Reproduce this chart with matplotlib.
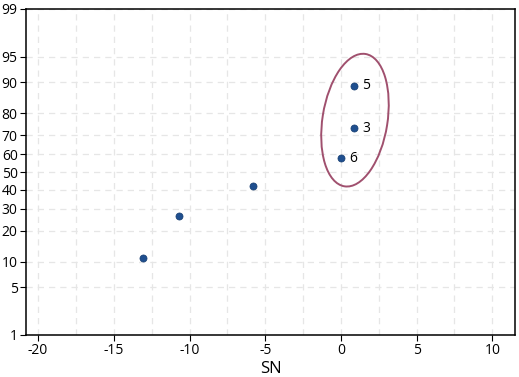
import matplotlib.pyplot as plt
import matplotlib.transforms as mtransforms
from matplotlib.patches import Ellipse
import numpy as np
from statistics import NormalDist

plt.rcParams['font.family'] = ['Open Sans', 'DejaVu Sans']
plt.rcParams['axes.unicode_minus'] = False

# SN values (sorted) and point labels
sn = [-13.1, -10.7, -5.8, 0.0, 0.85, 0.85]
point_labels = ['', '', '', '6', '3', '5']
prob_ticks = [1, 5, 10, 20, 30, 40, 50, 60, 70, 80, 90, 95, 99]

nd = NormalDist()
n = len(sn)
# median rank plotting positions
pp = [(i - 0.3) / (n + 0.4) for i in range(1, n + 1)]
z = [nd.inv_cdf(p) for p in pp]

fig = plt.figure(figsize=(5.19, 3.77), dpi=100)
ax = fig.add_axes([26 / 519, 42 / 377, 489 / 519, 326 / 377])

ax.scatter(sn, z, s=26, color='#1f4f8f', edgecolors='#163d70', linewidths=0.5, zorder=3)
for x, y, lab in zip(sn, z, point_labels):
    if lab:
        ax.annotate(lab, (x, y), xytext=(6, 0), textcoords='offset points',
                    va='center', ha='left', fontsize=10, color='black')

# ellipse around the three right-hand points
tr = fig.dpi_scale_trans + mtransforms.ScaledTranslation(0.93, 0.74, ax.transData)
ax.add_patch(Ellipse((0, 0), 1.34, 0.65, angle=81, transform=tr, fill=False,
                     edgecolor='#a0506e', linewidth=1.4, zorder=4))

zt = [nd.inv_cdf(p / 100) for p in prob_ticks]
ax.set_yticks(zt)
ax.set_yticklabels([str(p) for p in prob_ticks])
ax.set_ylim(nd.inv_cdf(0.01), nd.inv_cdf(0.99))
ax.set_xlim(-20.8, 11.5)
ax.set_xticks([-20, -15, -10, -5, 0, 5, 10])
ax.set_xticks(np.arange(-20, 12, 2.5), minor=True)
ax.tick_params(which='minor', length=0)
ax.tick_params(which='major', length=4, labelsize=10, pad=2)
ax.grid(True, which='both', axis='x', linestyle=(0, (5, 4)), color='#e6e6e6', linewidth=0.9)
ax.grid(True, which='major', axis='y', linestyle=(0, (5, 4)), color='#e6e6e6', linewidth=0.9)
ax.set_axisbelow(True)
for s in ax.spines.values():
    s.set_linewidth(1.1)

ax.set_xlabel('SN', fontsize=12, labelpad=2)

fig.savefig('out.png', dpi=100)
